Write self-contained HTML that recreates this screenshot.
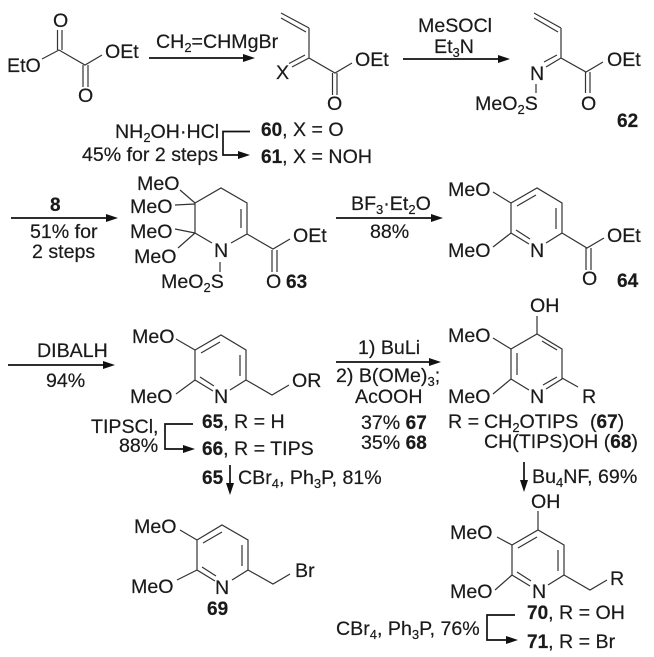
<!DOCTYPE html>
<html>
<head>
<meta charset="utf-8">
<style>
html,body{margin:0;padding:0;background:#fff}
svg{display:block}
text{font-family:"Liberation Sans",sans-serif;font-size:19.6px;fill:#1a1a1a;stroke:#1a1a1a;stroke-width:.2}
.b{font-weight:bold;font-size:19px}
.s{font-size:13px}
.bond{stroke:#333;stroke-width:1.2;fill:none}
.ar{stroke:#111;stroke-width:1.7;fill:none}
.h{fill:#111;stroke:none}
</style>
</head>
<body>
<svg width="654" height="657" viewBox="0 0 654 657" xmlns="http://www.w3.org/2000/svg">
<!-- Arrows -->
<g class="ar">
<path d="M149 58H245"/><path d="M403 59H500"/>
<path d="M11 218H108"/><path d="M336 218H433"/>
<path d="M8 365H105"/><path d="M336 362H431"/>
<path d="M250 131.500H223V155H240"/>
<path d="M193 424H165V449H185"/>
<path d="M515 615H487V640H508"/>
<path d="M230 465V485"/><path d="M524 462V482"/>
</g>
<g class="h">
<path d="M255 58L243 54V62Z"/><path d="M510 59L498 55V63Z"/>
<path d="M118 218L106 214V222Z"/><path d="M443 218L431 214V222Z"/>
<path d="M115 365L103 361V369Z"/><path d="M441 362L429 358V366Z"/>
<path d="M250 155L238 151V159Z"/><path d="M195 449L183 445V453Z"/>
<path d="M518 640L506 636V644Z"/>
<path d="M230 495L226 483H234Z"/><path d="M524 492L520 480H528Z"/>
</g>
<!-- Bonds -->
<g class="bond">
<!-- oxalate -->
<path d="M42 59L59 50L85 65L102 55M57.500 30V50M62 30V50M83 65V87M88 65V87"/>
<!-- 60 -->
<path d="M309 28V58L335 73L352 63M281 13L309 28M281 18L306 32M309 58L292 67M305 55L289 63.500M332.500 73V95M337 73V95"/>
<!-- 62 -->
<path d="M561 28V58L586 72L603 62M534 13L561 28M534 18L558 32M561 58L546 67M557 55L544 62M585.500 72V93M590 72V93M536 84V93"/>
<!-- 63 -->
<path d="M180 190L195 203L221 188L247 203V234L231 243M195 203V233L212 243M241 209V228M175 205L195 204M175 229L195 233M178 248L195 233M247 234L273 249L290 239M272 250V272M277 250V272M220 262V272"/>
<!-- 64 -->
<path d="M493 192L511 203M493 247L511 233M562 233L587 248L604 238M586 248V270M591 248V270"/>
<g transform="translate(511,203)"><path d="M0 0L26 -15L51 0V30L35 40M0 0V30L18 41M6 3L25 -8M45 5V26M5 27L19 36"/></g>
<!-- 65 -->
<path d="M176 339L195 350M176 394L195 380M246 380L272 395L289 385"/>
<g transform="translate(195,350)"><path d="M0 0L26 -15L51 0V30L35 40M0 0V30L18 41M6 3L25 -8M45 5V26M5 27L19 36"/></g>
<!-- 67 -->
<path d="M537 316V334M493 338L511 349M493 394L511 379M562 378L578 387"/>
<g transform="translate(511,349)"><path d="M0 0L26 -15L51 0V30L35 40M0 0V30L18 41M6 4V26M31 -8L46 1M32 36L46 28"/></g>
<!-- 69 -->
<path d="M180 530L197 540M177 580L197 570M248 570L273 584L290 574"/>
<g transform="translate(197,540)"><path d="M0 0L25 -15L51 0V30L35 40M0 0V30L18 41M6 3L25 -8M45 5V26M5 27L19 36"/></g>
<!-- 70 -->
<path d="M538 511V530M497 537L512 545M495 590L512 575M564 575L590 590L607 580"/>
<g transform="translate(512,545)"><path d="M0 0L26 -15L52 0V30L36 40M0 0V30L18 41M6 3L25 -8M46 5V26M5 27L19 36"/></g>
</g>
<!-- Row 1 text -->
<text x="53" y="27">O</text>
<text x="78" y="102">O</text>
<text x="7" y="72">EtO</text>
<text x="105" y="58">OEt</text>
<text x="156" y="48">CH<tspan class="s" dy="4">2</tspan><tspan dy="-4">=CHMgBr</tspan></text>
<text x="276" y="79">X</text>
<text x="355" y="66">OEt</text>
<text x="327" y="110">O</text>
<text x="418" y="32">MeSOCl</text>
<text x="434" y="53">Et<tspan class="s" dy="4">3</tspan><tspan dy="-4">N</tspan></text>
<text x="530" y="80">N</text>
<text x="475" y="110">MeO<tspan class="s" dy="4">2</tspan><tspan dy="-4">S</tspan></text>
<text x="607" y="66">OEt</text>
<text x="581" y="110">O</text>
<text x="617" y="127" class="b">62</text>
<text x="115" y="138">NH<tspan class="s" dy="4">2</tspan><tspan dy="-4">OH·HCl</tspan></text>
<text x="82" y="161" textLength="136" lengthAdjust="spacingAndGlyphs">45% for 2 steps</text>
<text x="261" y="136"><tspan class="b">60</tspan>, X = O</text>
<text x="261" y="163"><tspan class="b">61</tspan>, X = NOH</text>
<!-- Row 2 text -->
<text x="50" y="211" class="b">8</text>
<text x="30" y="238">51% for</text>
<text x="32" y="258">2 steps</text>
<text x="137" y="190">MeO</text>
<text x="130" y="213">MeO</text>
<text x="130" y="238">MeO</text>
<text x="134" y="263">MeO</text>
<text x="214" y="257">N</text>
<text x="161" y="288">MeO<tspan class="s" dy="4">2</tspan><tspan dy="-4">S</tspan></text>
<text x="266" y="288">O</text>
<text x="286" y="288" class="b">63</text>
<text x="293" y="242">OEt</text>
<text x="351" y="210">BF<tspan class="s" dy="4">3</tspan><tspan dy="-4">·Et</tspan><tspan class="s" dy="4">2</tspan><tspan dy="-4">O</tspan></text>
<text x="370" y="238">88%</text>
<text x="448" y="196">MeO</text>
<text x="448" y="257">MeO</text>
<text x="530" y="257">N</text>
<text x="607" y="242">OEt</text>
<text x="582" y="285">O</text>
<text x="617" y="287" class="b">64</text>
<!-- Row 3 text -->
<text x="37" y="357">DIBALH</text>
<text x="46" y="387">94%</text>
<text x="132" y="343">MeO</text>
<text x="130" y="403">MeO</text>
<text x="214" y="403">N</text>
<text x="292" y="387">OR</text>
<text x="202" y="428"><tspan class="b">65</tspan>, R = H</text>
<text x="202" y="455"><tspan class="b">66</tspan>, R = TIPS</text>
<text x="91" y="433">TIPSCl,</text>
<text x="119" y="452">88%</text>
<text x="202" y="484" class="b">65</text>
<text x="238" y="484">CBr<tspan class="s" dy="4">4</tspan><tspan dy="-4">, Ph</tspan><tspan class="s" dy="4">3</tspan><tspan dy="-4">P, 81%</tspan></text>
<text x="358" y="354">1) BuLi</text>
<text x="336" y="382">2) B(OMe)<tspan class="s" dy="4">3</tspan><tspan dy="-4">;</tspan></text>
<text x="355" y="403">AcOOH</text>
<text x="361" y="429">37% <tspan class="b">67</tspan></text>
<text x="361" y="449">35% <tspan class="b">68</tspan></text>
<text x="530" y="312">OH</text>
<text x="448" y="342">MeO</text>
<text x="448" y="403">MeO</text>
<text x="530" y="403">N</text>
<text x="582" y="403">R</text>
<text x="448" y="428">R =</text>
<text x="484" y="428">CH<tspan class="s" dy="4">2</tspan><tspan dy="-4">OTIPS</tspan></text>
<text x="590" y="428">(<tspan class="b">67</tspan>)</text>
<text x="484" y="448">CH(TIPS)OH (<tspan class="b">68</tspan>)</text>
<text x="532" y="483">Bu<tspan class="s" dy="4">4</tspan><tspan dy="-4">NF, 69%</tspan></text>
<!-- Row 4 text -->
<text x="134" y="533">MeO</text>
<text x="131" y="593">MeO</text>
<text x="215" y="594">N</text>
<text x="295" y="577">Br</text>
<text x="207" y="615" class="b">69</text>
<text x="531" y="508">OH</text>
<text x="450" y="539">MeO</text>
<text x="450" y="598">MeO</text>
<text x="532" y="598">N</text>
<text x="610" y="585">R</text>
<text x="527" y="619"><tspan class="b">70</tspan>, R = OH</text>
<text x="527" y="648"><tspan class="b">71</tspan>, R = Br</text>
<text x="336" y="635">CBr<tspan class="s" dy="4">4</tspan><tspan dy="-4">, Ph</tspan><tspan class="s" dy="4">3</tspan><tspan dy="-4">P, 76%</tspan></text>
</svg>
</body>
</html>
